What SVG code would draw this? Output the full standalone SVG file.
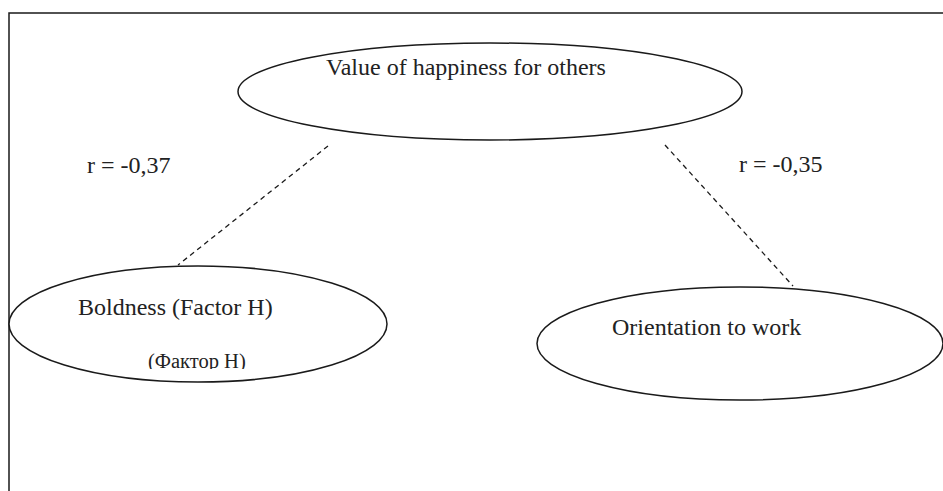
<svg xmlns="http://www.w3.org/2000/svg" width="943" height="491" viewBox="0 0 943 491">
<style>
.node{fill:#fff;stroke:#1a1a1a;stroke-width:1.5}
.t{font-family:"Liberation Serif","Times New Roman",serif;font-size:24px;fill:#222}
.s{font-size:20.5px}
.conn{stroke:#1a1a1a;stroke-width:1.3;stroke-dasharray:5,4;fill:none}
</style>
<defs><clipPath id="cl"><rect x="0" y="0" width="943" height="369"/></clipPath></defs>
<rect x="9" y="13" width="940" height="490" fill="#fff" stroke="#1a1a1a" stroke-width="1.5"/>
<g id="connectors">
<line class="conn" x1="328" y1="146" x2="178" y2="265"/>
<line class="conn" x1="665" y1="145" x2="793" y2="286"/>
</g>
<g id="n-value">
<ellipse class="node" cx="490" cy="91.5" rx="252" ry="48.5"/>
<text class="t" x="326" y="75">Value of happiness for others</text>
</g>
<g id="n-boldness">
<ellipse class="node" cx="198" cy="324" rx="189" ry="58"/>
<text class="t" x="78" y="315">Boldness (Factor H)</text>
<text class="t s" x="148" y="368" clip-path="url(#cl)">(Фактор H)</text>
</g>
<g id="n-orientation">
<ellipse class="node" cx="740" cy="343.5" rx="203" ry="56.5"/>
<text class="t" x="612" y="335">Orientation to work</text>
</g>
<g id="labels">
<text class="t" x="87" y="173">r = -0,37</text>
<text class="t" x="739" y="172">r = -0,35</text>
</g>
</svg>
